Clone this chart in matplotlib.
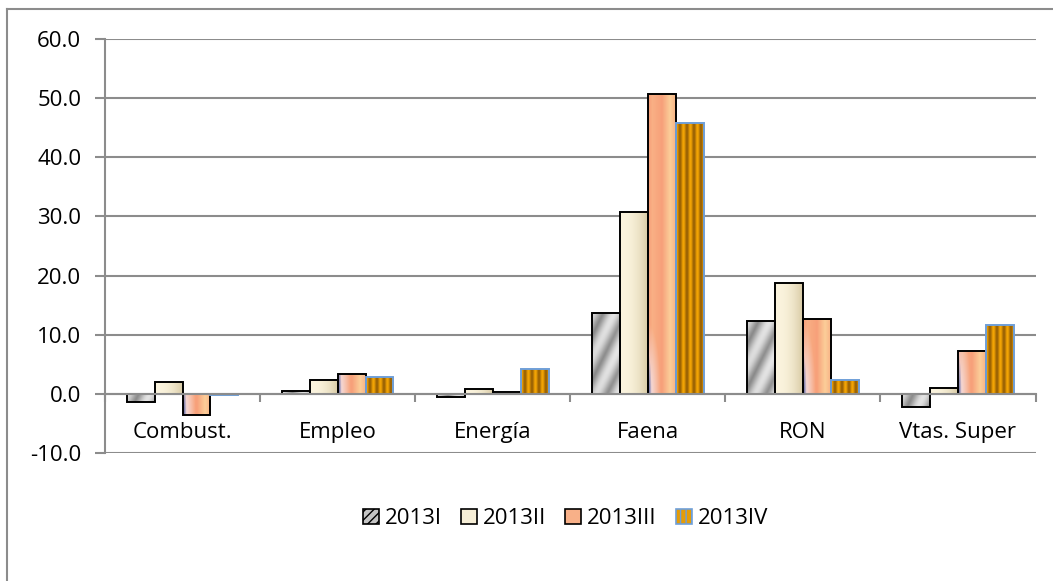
import matplotlib
matplotlib.use('Agg')
import numpy as np
import matplotlib.pyplot as plt
from matplotlib.patches import Patch
from matplotlib.lines import Line2D
from matplotlib.colors import to_rgb

categories = ['Combust.', 'Empleo', 'Energía', 'Faena', 'RON', 'Vtas. Super']
series = ['2013I', '2013II', '2013III', '2013IV']
v_2013I = [-1.3, 0.6, -0.5, 13.7, 12.3, -2.2]
v_2013II = [2.0, 2.4, 0.9, 30.8, 18.8, 1.0]
v_2013III = [-3.5, 3.4, 0.4, 50.6, 12.7, 7.2]
v_2013IV = [-0.1, 2.9, 4.2, 45.8, 2.3, 11.6]
yticks = [-10, 0, 10, 20, 30, 40, 50, 60]

plt.rcParams['font.family'] = ['Open Sans', 'DejaVu Sans']
FS = 16
GRID = '#8c8c8c'


def lerp(c1, c2, t):
    c1 = np.array(to_rgb(c1)); c2 = np.array(to_rgb(c2))
    t = np.clip(t, 0, 1)[..., None]
    return c1 * (1 - t) + c2 * t


#texture for each series, built in pixel units
def texture(kind, w, h):
    X, Y = np.meshgrid(np.arange(w), np.arange(h))
    u = X / max(w - 1, 1)
    vb = (h - 1 - Y)  # pixels from bottom
    if kind == 0:
        t = 0.5 + 0.5 * np.cos(2 * np.pi * (X + 0.5 * Y) / 22.0)
        img = lerp('#5e5e5e', '#f2f2f2', t ** 0.7)
        base = lerp('#bdbdbd', '#d8d8d8', u)
        img = 0.55 * img + 0.45 * base
    elif kind == 1:
        img = lerp('#fbf4de', '#d9cba6', u ** 2.2)
    elif kind == 2:
        t = np.interp(u, [0, 0.15, 0.5, 0.8, 1.0], [0, 0.3, 0.0, 0.9, 0.4])
        img = lerp('#f7a07a', '#fcd39c', t)
        f = np.clip(1 - np.hypot(u / 0.45, vb / 70.0), 0, 1)
        img = img * (1 - f[..., None]) + np.array(to_rgb('#f3e6f2')) * f[..., None]
        g = np.clip(1 - np.hypot(u / 0.12, vb / 40.0), 0, 1)
        img = img * (1 - g[..., None]) + np.array(to_rgb('#4c5592')) * g[..., None]
    else:
        t = 0.5 + 0.5 * np.cos(2 * np.pi * X / 7.0)
        img = lerp('#9a6204', '#f2a404', t)
    return img


fig = plt.figure(figsize=(10.53, 5.81), dpi=100)
ax = fig.add_axes([0.0997, 0.2198, 0.8837, 0.7136])

values = [v_2013I, v_2013II, v_2013III, v_2013IV]
edges = ['black', 'black', 'black', '#6f9fd8']
x = np.arange(len(categories))
width = 0.18

ax.set_xlim(-0.5, len(categories) - 0.5)
ax.set_ylim(-10, 60)

all_bars = []
for i, vals in enumerate(values):
    bars = ax.bar(x + (i - 1.5) * width, vals, width, facecolor='none',
                  edgecolor=edges[i], linewidth=1.4, zorder=4)
    all_bars.append(bars)

# fill bars with textures clipped to each rectangle
for i, bars in enumerate(all_bars):
    for rect in bars:
        x0, y0 = rect.get_xy()
        w = rect.get_width(); h = rect.get_height()
        bot, top = min(y0, y0 + h), max(y0, y0 + h)
        p0 = ax.transData.transform((x0, bot))
        p1 = ax.transData.transform((x0 + w, top))
        wpx = max(int(round(p1[0] - p0[0])), 2)
        hpx = max(int(round(p1[1] - p0[1])), 2)
        im = ax.imshow(texture(i, wpx, hpx), extent=(x0, x0 + w, bot, top),
                       origin='upper', aspect='auto', zorder=3,
                       interpolation='bilinear')
        im.set_clip_path(rect)

ax.set_xlim(-0.5, len(categories) - 0.5)
ax.set_ylim(-10, 60)

ax.set_yticks(yticks)
ax.set_yticklabels(['%.1f' % v for v in yticks], fontsize=FS)
ax.yaxis.grid(True, color=GRID, linewidth=1.5, zorder=0)
ax.set_axisbelow(True)
ax.tick_params(axis='y', length=7, width=1.5, color=GRID, pad=10)

ax.spines['bottom'].set_position(('data', 0))
ax.spines['bottom'].set_color(GRID)
ax.spines['bottom'].set_linewidth(1.5)
ax.spines['bottom'].set_zorder(5)
ax.spines['left'].set_color(GRID)
ax.spines['left'].set_linewidth(1.5)
ax.spines['top'].set_visible(False)
ax.spines['right'].set_visible(False)

ax.set_xticks(x)
ax.set_xticklabels(categories, fontsize=FS)
ax.set_xticks(np.arange(len(categories) + 1) - 0.5, minor=True)
ax.tick_params(axis='x', which='major', length=0, pad=20)
ax.tick_params(axis='x', which='minor', length=6, width=1.5, color=GRID)

handles = [Patch(facecolor='#c4c4c4', edgecolor='black', hatch='////', linewidth=1.2),
           Patch(facecolor='#f6eed6', edgecolor='black', linewidth=1.2),
           Patch(facecolor='#f8b088', edgecolor='black', linewidth=1.2),
           Patch(facecolor='#e59c06', edgecolor='#6f9fd8', hatch='|||', linewidth=1.2)]
fig.legend(handles, series, loc='center', bbox_to_anchor=(0.537, 0.107), ncol=4,
           frameon=False, fontsize=FS, handlelength=0.72, handleheight=0.72,
           handletextpad=0.27, columnspacing=0.85)

# outer chart border
fig.add_artist(Line2D([7 / 1053, 7 / 1053], [0, 1 - 9 / 581], transform=fig.transFigure,
                      color=GRID, linewidth=1.5))
fig.add_artist(Line2D([7 / 1053, 1], [1 - 9 / 581, 1 - 9 / 581], transform=fig.transFigure,
                      color=GRID, linewidth=1.5))

fig.savefig('out.png', dpi=100)
